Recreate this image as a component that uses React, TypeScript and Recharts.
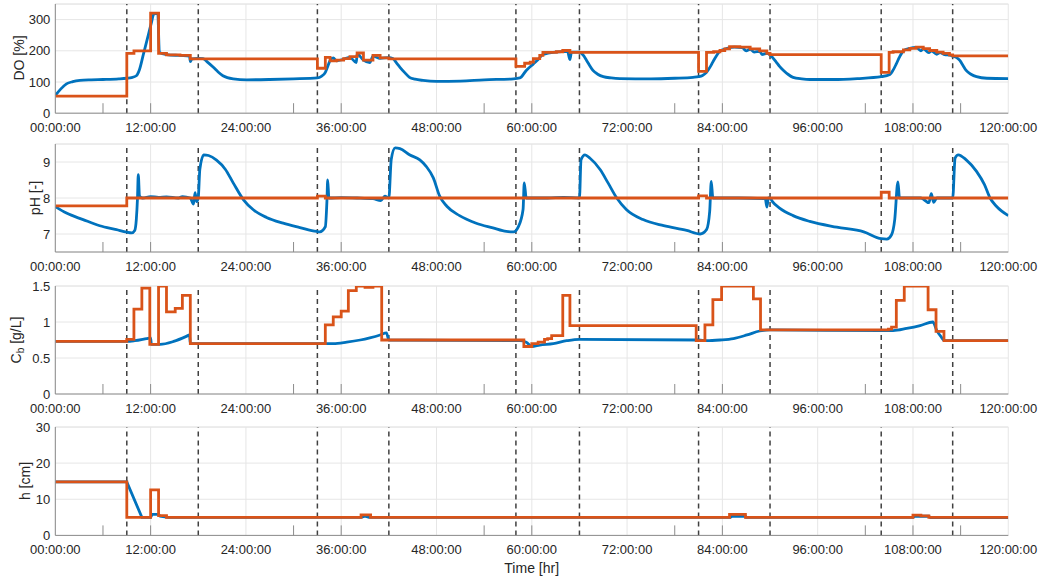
import { LineChart, Line, XAxis, YAxis, CartesianGrid, ReferenceLine } from 'recharts'

const BLUE = '#0072BD'
const ORANGE = '#D95319'
const GRID = '#e6e6e6'
const AXIS = '#8c8c8c'
const TEXT = '#262626'

// x axis (hours)
const HOURS = [0, 12, 24, 36, 48, 60, 72, 84, 96, 108, 120]
const HOUR_LABELS = ['00:00:00', '12:00:00', '24:00:00', '36:00:00', '48:00:00', '60:00:00', '72:00:00', '84:00:00', '96:00:00', '108:00:00', '120:00:00']
const MINOR_TICKS = [6, 12, 30, 36, 54, 60, 78, 84, 102, 108, 114]
const PHASE_CHANGES = [9, 18, 33, 42, 58, 66, 81, 90, 104, 113]

// DO [%]
const DO_MEASURED: [number, number][] = [
  [0, 57], [0.7, 78], [1.4, 94], [2.2, 101], [3.1, 105], [4.5, 107], [6, 108], [8, 110], [9, 112], [9.6, 114],
  [10.2, 120], [10.6, 140], [11.1, 190], [11.6, 240], [12.1, 290], [12.4, 318], [12.9, 320], [13.1, 195], [14, 188],
  [15.7, 185], [16.9, 183], [17, 165], [17.2, 174], [18, 176], [18.6, 175], [19.2, 163], [19.9, 147], [20.5, 132],
  [21.1, 120], [22.4, 110], [24.1, 107], [27, 108], [30, 110], [33, 113], [33.5, 118], [34, 131], [34.3, 150],
  [34.6, 169], [35, 177], [35.4, 168], [36.3, 173], [37.1, 179], [37.9, 162], [38, 190], [38.8, 170], [39.6, 162],
  [40, 183], [40.9, 176], [42, 178], [42.5, 175], [43, 160], [43.4, 147], [44, 130], [44.6, 115], [45.3, 109],
  [46.3, 105], [48, 102], [51, 103], [54, 107], [57.7, 110], [58.5, 113], [59.3, 137], [60.2, 158], [60.8, 172],
  [61.4, 188], [63, 196], [64.5, 198], [64.8, 172], [65, 196], [66, 196], [66.5, 185], [66.9, 169], [67.3, 152],
  [67.7, 137], [68.3, 125], [69, 117], [70, 113], [71.1, 111], [75, 110], [78, 112], [80.3, 115], [81, 117],
  [81.5, 121], [82, 131], [82.5, 150], [82.9, 169], [83.3, 186], [83.7, 200], [84.5, 207], [85.5, 212], [86.5, 210],
  [87, 200], [87.5, 205], [88, 196], [88.7, 198], [89, 188], [89.6, 192], [90, 187], [90.4, 176], [90.8, 163],
  [91.2, 150], [91.7, 137], [92.3, 124], [92.9, 115], [94, 110], [95, 108], [98, 108], [101, 111], [104, 117],
  [105.1, 124], [105.5, 138], [105.9, 158], [106.3, 180], [106.8, 200], [107.6, 208], [108.4, 211], [109, 200],
  [109.3, 206], [110, 194], [110.3, 200], [111, 189], [111.4, 194], [112, 188], [112.6, 186], [113, 183],
  [113.5, 178], [113.9, 169], [114.3, 153], [114.7, 137], [115.3, 125], [116, 117], [117.3, 112], [120, 111],
]
const DO_SETPOINT: [number, number][] = [
  [0, 55], [9, 192], [9.9, 200], [12, 321], [13, 192], [14, 187], [15.7, 185], [17, 174], [33, 144], [34, 179],
  [34.6, 168], [35.4, 170], [36.3, 175], [37.1, 181], [38, 193], [38.8, 170], [40, 185], [40.9, 177], [42, 174],
  [58, 150], [59.1, 160], [59.8, 164], [60.2, 175], [61, 185], [61.4, 195], [63.1, 197], [63.9, 201], [64.8, 195],
  [66, 195], [81, 134], [82, 195], [82.9, 197], [83.7, 201], [84.3, 206], [84.9, 213], [86.2, 212], [87.5, 206],
  [88.7, 200], [89.6, 192], [90, 188], [104, 131], [105, 195], [105.5, 197], [106.8, 203], [107.6, 208],
  [108.4, 212], [109.3, 207], [110.1, 201], [111, 196], [111.8, 192], [112.6, 187], [113, 184], [120, 184],
]

// pH [-]
const PH_MEASURED: [number, number][] = [
  [0, 7.76], [1.4, 7.58], [3.5, 7.4], [5.6, 7.23], [7.7, 7.12], [9, 7.05], [9.6, 7.03], [10, 7.1], [10.2, 7.4],
  [10.35, 8.0], [10.45, 8.65], [10.6, 8.05], [11, 8.0], [12, 8.04], [13, 8.02], [14, 8.03], [15.5, 8.0], [16, 8.04],
  [17, 8.0], [17.4, 7.83], [17.6, 8.15], [17.8, 7.9], [18, 8.0], [18.2, 8.8], [18.7, 9.2], [19.3, 9.18], [20.3, 9.05],
  [21.4, 8.8], [22.4, 8.42], [23.7, 7.95], [24.9, 7.68], [26.6, 7.46], [28.7, 7.3], [30.8, 7.18], [32.9, 7.07],
  [33.3, 7.06], [34, 7.2], [34.2, 7.9], [34.3, 8.5], [34.45, 8.0], [36, 8.01], [38, 8.0], [40, 7.98], [41, 7.93],
  [41.5, 8.05], [42, 8.0], [42.3, 9.07], [42.8, 9.39], [43.4, 9.37], [44.6, 9.2], [45.9, 9.06], [46.7, 8.88],
  [47.6, 8.56], [48.4, 8.05], [49.3, 7.77], [50.9, 7.51], [53, 7.3], [55.1, 7.17], [56.8, 7.07], [57.7, 7.06],
  [58.3, 7.2], [58.9, 7.68], [59.05, 8.42], [59.3, 8.0], [62, 8.0], [64, 8.02], [66, 8.0], [66.2, 9.06], [66.7, 9.2],
  [67.3, 9.11], [68.6, 8.79], [69.6, 8.42], [70.7, 8.0], [71.9, 7.68], [74, 7.4], [76.6, 7.23], [79.5, 7.1],
  [81.2, 7.0], [82, 7.12], [82.4, 7.63], [82.6, 8.46], [82.8, 8.0], [86, 8.0], [89.4, 7.98], [89.6, 7.75],
  [89.8, 8.0], [90, 8.0], [90.3, 7.9], [91.2, 7.72], [92.9, 7.51], [95, 7.35], [98.4, 7.19], [101.8, 7.06],
  [104, 6.87], [104.7, 6.86], [105.3, 6.98], [105.7, 7.4], [106.1, 8.45], [106.3, 8.0], [109, 8.0], [110, 7.87],
  [110.3, 8.12], [110.6, 7.88], [111, 8.0], [113, 8.0], [113.3, 9.11], [113.7, 9.2], [114.7, 9.06], [116, 8.74],
  [117, 8.37], [117.7, 8.0], [118.5, 7.77], [120, 7.51],
]
const PH_SETPOINT: [number, number][] = [
  [0, 7.78], [9, 8.0], [33, 8.05], [34, 8.0], [81, 8.06], [82, 8.0], [104, 8.16], [105, 8.0], [120, 8.0],
]

// Cb [g/L]
const CB_MEASURED: [number, number][] = [
  [0, 0.73], [9, 0.73], [10, 0.74], [11.5, 0.77], [12, 0.78], [12.1, 0.69], [13.2, 0.69], [14.9, 0.73], [16.5, 0.8],
  [16.9, 0.82], [17, 0.7], [33, 0.7], [35, 0.7], [36.7, 0.72], [38.4, 0.75], [39.6, 0.78], [40.9, 0.82], [41.7, 0.85],
  [42, 0.75], [58.5, 0.74], [59.3, 0.72], [60, 0.66], [61, 0.68], [62.7, 0.7], [64.4, 0.74], [66, 0.76], [81, 0.75],
  [82, 0.74], [83.7, 0.75], [85.4, 0.77], [87.1, 0.82], [88.7, 0.875], [90, 0.89], [104, 0.88], [105.5, 0.88],
  [107.2, 0.91], [108.9, 0.95], [110.5, 1.0], [111, 0.88], [111.5, 0.8], [112, 0.74], [120, 0.74],
]
const CB_SETPOINT: [number, number][] = [
  [0, 0.73], [9, 0.76], [9.9, 1.18], [10.9, 1.47], [11.9, 0.69], [13, 1.5], [14, 1.14], [15.1, 1.19], [16, 1.37],
  [17, 0.7], [34, 0.96], [35, 1.07], [36, 1.15], [36.9, 1.435], [37.9, 1.5], [39, 1.48], [40, 1.5], [41.1, 0.75],
  [59, 0.66], [60, 0.7], [60.8, 0.72], [61.6, 0.76], [62, 0.77], [62.5, 0.81], [63.9, 1.37], [64.8, 0.95],
  [80.7, 0.74], [81.8, 0.96], [82.8, 1.31], [83.9, 1.5], [87.9, 1.32], [88.8, 0.89], [104.9, 0.9], [105.3, 0.93],
  [105.9, 1.3], [106.9, 1.5], [109.9, 1.17], [110.9, 0.87], [111.9, 0.74], [120, 0.74],
]

// h [cm]
const H_MEASURED: [number, number][] = [
  [0, 14.8], [9, 14.8], [10.9, 5.0], [12, 5.0], [12.2, 5.8], [13, 5.8], [13.2, 5.3], [14.2, 5.0], [38.5, 5.0],
  [39, 5.3], [39.5, 5.0], [85, 5.0], [85.2, 5.3], [86.9, 5.3], [87, 5.0], [108, 5.0], [108.2, 5.3], [110, 5.3],
  [110.2, 4.9], [120, 4.9],
]
const H_SETPOINT: [number, number][] = [
  [0, 14.8], [9, 5.0], [12, 12.6], [13, 5.45], [14, 5.0], [38.5, 5.7], [39.7, 5.0], [84.9, 5.8], [86.9, 5.0],
  [108, 5.6], [109, 5.4], [110, 5.0], [120, 5.0],
]

const toRows = (pts: [number, number][]) => pts.map(([t, v]) => ({ t, v }))

const X_TICKS = Array.from(new Set([...HOURS, ...MINOR_TICKS])).sort((a, b) => a - b)

function XTick(props: any) {
  const { x, y, payload } = props
  const i = HOURS.indexOf(payload.value)
  return (
    <g>
      {MINOR_TICKS.includes(payload.value) && <line x1={x} x2={x} y1={y} y2={y - 10} stroke={AXIS} strokeWidth={1} />}
      {i >= 0 && (
        <text x={x} y={y + 18.5} textAnchor="middle" fontSize={13} fill={TEXT}>
          {HOUR_LABELS[i]}
        </text>
      )}
    </g>
  )
}

const TOP_PAD = 6
const AXIS_H = 26

function Panel({ top, plotHeight, domain, yTicks, measured, setpoint, measuredType = 'monotone' }: any) {
  return (
    <div style={{ position: 'absolute', left: 0, top: top - TOP_PAD }}>
      <LineChart
        width={1040}
        height={TOP_PAD + plotHeight + AXIS_H}
        margin={{ top: TOP_PAD, right: 31.7, bottom: 0, left: 10.3 }}
      >
        <CartesianGrid vertical={false} stroke={GRID} />
        {HOURS.map((h) => (
          <ReferenceLine key={`g${h}`} x={h} stroke={GRID} />
        ))}
        <ReferenceLine y={domain[1]} stroke={GRID} />
        {PHASE_CHANGES.map((h) => (
          <ReferenceLine key={`p${h}`} x={h} stroke="#404040" strokeWidth={1.5} strokeDasharray="5 4" />
        ))}
        <XAxis
          type="number"
          dataKey="t"
          domain={[0, 120]}
          ticks={X_TICKS}
          interval={0}
          tick={XTick}
          tickLine={false}
          tickSize={0}
          tickMargin={0}
          height={AXIS_H}
          axisLine={{ stroke: AXIS }}
          allowDataOverflow
        />
        <YAxis
          type="number"
          domain={domain}
          ticks={yTicks}
          interval={0}
          width={45}
          tickSize={0}
          tickMargin={5}
          tickLine={false}
          axisLine={{ stroke: AXIS }}
          tick={{ fontSize: 13, fill: TEXT }}
          allowDataOverflow
        />
        <Line
          data={toRows(measured)}
          dataKey="v"
          type={measuredType}
          stroke={BLUE}
          strokeWidth={2.8}
          dot={false}
          isAnimationActive={false}
        />
        <Line
          data={toRows(setpoint)}
          dataKey="v"
          type="stepAfter"
          stroke={ORANGE}
          strokeWidth={2.8}
          dot={false}
          isAnimationActive={false}
        />
      </LineChart>
    </div>
  )
}

function VLabel({ x, y, children }: any) {
  return (
    <text x={x} y={y} transform={`rotate(-90 ${x} ${y})`} textAnchor="middle" dominantBaseline="central" fontSize={14} fill={TEXT}>
      {children}
    </text>
  )
}

export default function App() {
  return (
    <div
      style={{
        position: 'absolute',
        left: 0,
        top: 0,
        width: 1040,
        height: 581,
        background: '#fff',
        fontFamily: '"Liberation Sans", Arial, Helvetica, sans-serif',
      }}
    >
      <Panel top={3.5} plotHeight={109.2} domain={[0, 350]} yTicks={[0, 100, 200, 300]}
        measured={DO_MEASURED} setpoint={DO_SETPOINT} />
      <Panel top={144.3} plotHeight={108} domain={[6.5, 9.5]} yTicks={[7, 8, 9]}
        measured={PH_MEASURED} setpoint={PH_SETPOINT} />
      <Panel top={286} plotHeight={108} domain={[0, 1.5]} yTicks={[0, 0.5, 1, 1.5]}
        measured={CB_MEASURED} setpoint={CB_SETPOINT} />
      <Panel top={427.3} plotHeight={108.4} domain={[0, 30]} yTicks={[0, 10, 20, 30]}
        measured={H_MEASURED} setpoint={H_SETPOINT} measuredType="linear" />
      <svg width={1040} height={581} style={{ position: 'absolute', left: 0, top: 0, pointerEvents: 'none' }}>
        <VLabel x={19} y={58}>DO [%]</VLabel>
        <VLabel x={35} y={198}>pH [-]</VLabel>
        <VLabel x={16} y={340}>
          C<tspan dy={4} fontSize={10}>b</tspan>
          <tspan dy={-4}> [g/L]</tspan>
        </VLabel>
        <VLabel x={25} y={481}>h [cm]</VLabel>
        <text x={531.7} y={568} textAnchor="middle" dominantBaseline="central" fontSize={14} fill={TEXT}>
          Time [hr]
        </text>
      </svg>
    </div>
  )
}
